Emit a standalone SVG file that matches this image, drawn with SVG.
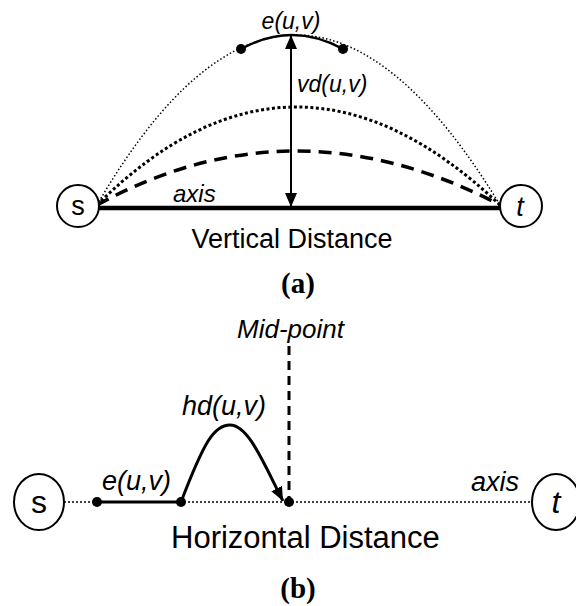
<svg xmlns="http://www.w3.org/2000/svg" width="576" height="606" viewBox="0 0 576 606">
<style>
.t{font-family:"Liberation Sans",Arial,sans-serif;fill:#000}
.i{font-style:italic}
.cap{font-family:"Liberation Serif","Times New Roman",serif;font-weight:bold;fill:#000}
.node{fill:#fff;stroke:#000;stroke-width:2}
.ln{fill:none;stroke:#000}
</style>
<defs>
<marker id="ah" markerUnits="userSpaceOnUse" markerWidth="14" markerHeight="12" viewBox="0 0 14 12" refX="14" refY="6" orient="auto-start-reverse">
<path d="M0,0 L14,6 L0,12 z" fill="#000"/>
</marker>
</defs>
<rect width="576" height="606" fill="#fff"/>
<g id="connectors">
<!-- top (a) -->
<path class="ln" d="M97,205 Q294,-135 500,205" stroke-width="1.5" stroke-dasharray="1.5,2.2"/>
<path class="ln" d="M97,205 Q294,9 500,205" stroke-width="3" stroke-dasharray="3,2.5"/>
<path class="ln" d="M97,205 Q294,97 500,205" stroke-width="3.5" stroke-dasharray="13,8"/>
<path class="ln" d="M241,49 Q292,21 343,49" stroke-width="2.5"/>
<line class="ln" x1="99" y1="208" x2="500" y2="208" stroke-width="4.5"/>
<line class="ln" x1="291" y1="35" x2="291" y2="207" stroke-width="2" marker-start="url(#ah)" marker-end="url(#ah)"/>
<circle cx="241" cy="49" r="5" fill="#000"/>
<circle cx="343" cy="49" r="5" fill="#000"/>
<!-- bottom (b) -->
<line class="ln" x1="64" y1="502" x2="532" y2="502" stroke-width="1.5" stroke-dasharray="2,2"/>
<line class="ln" x1="97" y1="502" x2="181" y2="502" stroke-width="3"/>
<line class="ln" x1="289" y1="346" x2="289" y2="502" stroke-width="3" stroke-dasharray="9,6"/>
<path class="ln" d="M181,502 C204,442 214,425 230,425 C248,425 262,460 283,501" stroke-width="3" marker-end="url(#ah)"/>
<circle cx="97" cy="502" r="5" fill="#000"/>
<circle cx="181" cy="502" r="5" fill="#000"/>
<circle cx="289" cy="502" r="5" fill="#000"/>
</g>
<g id="node-s-a">
<circle class="node" cx="78" cy="206" r="21"/>
<text class="t" x="78" y="215" font-size="27" text-anchor="middle">s</text>
</g>
<g id="node-t-a">
<circle class="node" cx="521" cy="206" r="21"/>
<text class="t i" x="520" y="216" font-size="27" text-anchor="middle">t</text>
</g>
<g id="node-s-b">
<ellipse class="node" cx="39" cy="502" rx="25" ry="28"/>
<text class="t" x="39" y="513" font-size="32" text-anchor="middle">s</text>
</g>
<g id="node-t-b">
<ellipse class="node" cx="556" cy="502" rx="24" ry="28"/>
<text class="t i" x="556" y="513" font-size="32" text-anchor="middle">t</text>
</g>
<g id="labels">
<text class="t i" x="291" y="29" font-size="23" text-anchor="middle">e(u,v)</text>
<text class="t i" x="297" y="92" font-size="23">vd(u,v)</text>
<text class="t i" x="173" y="202" font-size="24">axis</text>
<text class="t" x="292" y="248" font-size="27" text-anchor="middle">Vertical Distance</text>
<text class="cap" x="298" y="293" font-size="29" text-anchor="middle">(a)</text>
<text class="t i" x="237" y="338" font-size="26">Mid-point</text>
<text class="t i" x="182" y="415" font-size="27">hd(u,v)</text>
<text class="t i" x="102" y="490" font-size="27">e(u,v)</text>
<text class="t i" x="471" y="491" font-size="27">axis</text>
<text class="t" x="171" y="548" font-size="31">Horizontal Distance</text>
<text class="cap" x="298" y="598" font-size="29" text-anchor="middle">(b)</text>
</g>
</svg>
